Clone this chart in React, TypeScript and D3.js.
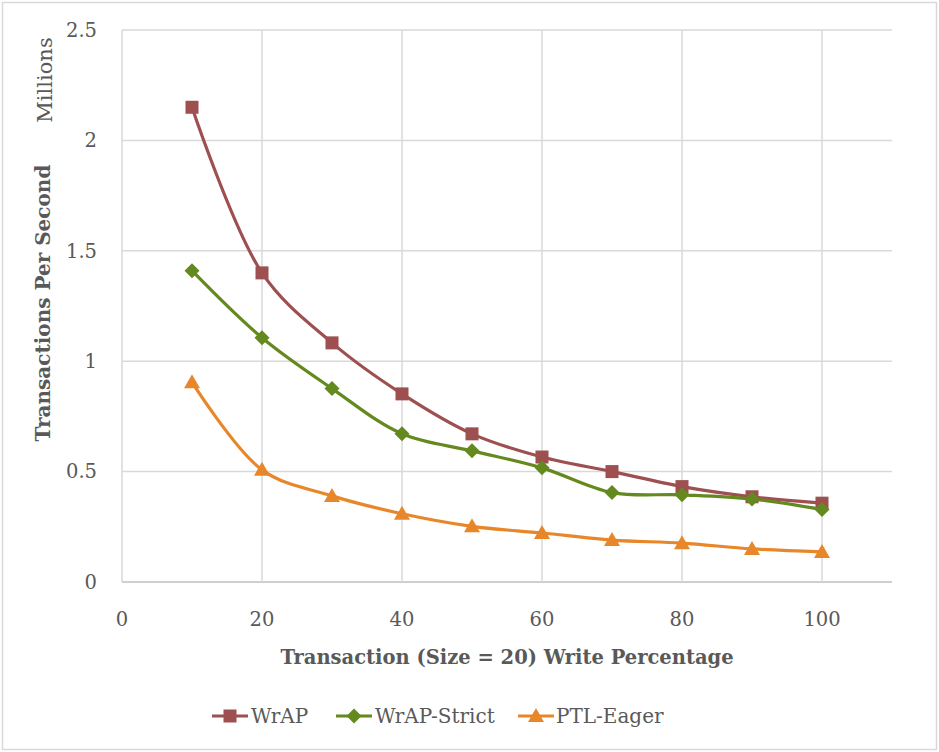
import * as d3 from 'd3';

const writePct = [10, 20, 30, 40, 50, 60, 70, 80, 90, 100];
const wrap = [2.15, 1.40, 1.083, 0.852, 0.671, 0.566, 0.500, 0.432, 0.386, 0.357];
const wrapStrict = [1.41, 1.106, 0.876, 0.671, 0.594, 0.517, 0.405, 0.395, 0.376, 0.328];
const ptlEager = [0.905, 0.508, 0.39, 0.309, 0.252, 0.222, 0.19, 0.176, 0.15, 0.136];
const xTicks = [0, 20, 40, 60, 80, 100];
const yTicks = [0, 0.5, 1, 1.5, 2, 2.5];

const seriesList = [
  { name: 'WrAP', values: wrap, color: '#9E4F50', marker: 'square' },
  { name: 'WrAP-Strict', values: wrapStrict, color: '#64891E', marker: 'diamond' },
  { name: 'PTL-Eager', values: ptlEager, color: '#E8872A', marker: 'triangle' },
];

const W = 939;
const H = 752;
const font = '"DejaVu Serif", serif';

const x = d3.scaleLinear().domain([0, 110]).range([122, 892]);
const y = d3.scaleLinear().domain([0, 2.5]).range([582, 30]);

function Marker({ kind, cx, cy, color, s = 1 }: { kind: string; cx: number; cy: number; color: string; s?: number }) {
  if (kind === 'square') {
    const h = 6.5 * s;
    return <rect x={cx - h} y={cy - h} width={2 * h} height={2 * h} fill={color} />;
  }
  if (kind === 'diamond') {
    const h = 7.5 * s;
    return <path d={`M${cx},${cy - h}L${cx + h},${cy}L${cx},${cy + h}L${cx - h},${cy}Z`} fill={color} />;
  }
  const h = 8 * s;
  return <path d={`M${cx},${cy - h}L${cx + h},${cy + h * 0.75}L${cx - h},${cy + h * 0.75}Z`} fill={color} />;
}

export default function App() {
  const line = d3
    .line<number>()
    .x((_, i) => x(writePct[i]))
    .y((d) => y(d))
    .curve(d3.curveCatmullRom.alpha(0.5));

  const legendItems = [
    { lx: 212, tx: 251 },
    { lx: 336, tx: 375 },
    { lx: 518, tx: 556 },
  ];

  return (
    <svg width={W} height={H} style={{ position: 'absolute', left: 0, top: 0 }} fontFamily={font}>
      <rect x={0} y={0} width={W} height={H} fill="#fff" />
      <rect x={2.5} y={2.5} width={W - 5} height={H - 5} fill="none" stroke="#D9D9D9" strokeWidth={1.5} />

      {yTicks.map((t) => (
        <line key={'gy' + t} x1={x(0)} x2={x(110)} y1={y(t)} y2={y(t)} stroke={t === 0 ? '#BFBFBF' : '#D9D9D9'} strokeWidth={1.5} />
      ))}
      {xTicks.map((t) => (
        <line key={'gx' + t} x1={x(t)} x2={x(t)} y1={y(0)} y2={y(2.5)} stroke="#D9D9D9" strokeWidth={1.5} />
      ))}

      {yTicks.map((t) => (
        <text key={'ty' + t} x={97} y={y(t)} dy="0.35em" textAnchor="end" fontSize={19.5} fill="#595959">
          {t}
        </text>
      ))}
      {xTicks.map((t) => (
        <text key={'tx' + t} x={x(t)} y={619} dy="0.35em" textAnchor="middle" fontSize={19.5} fill="#595959">
          {t}
        </text>
      ))}

      <text x={507} y={657} dy="0.35em" textAnchor="middle" fontSize={19.5} fontWeight="bold" fill="#595959">
        Transaction (Size = 20) Write Percentage
      </text>
      <text transform="translate(43,303) rotate(-90)" dy="0.35em" textAnchor="middle" fontSize={20} fontWeight="bold" fill="#595959">
        Transactions Per Second
      </text>
      <text transform="translate(45,80) rotate(-90)" dy="0.35em" textAnchor="middle" fontSize={21} fill="#595959">
        Millions
      </text>

      {seriesList.map((s) => (
        <g key={s.name}>
          <path d={line(s.values) ?? ''} fill="none" stroke={s.color} strokeWidth={3.2} strokeLinejoin="round" />
          {s.values.map((v, i) => (
            <Marker key={i} kind={s.marker} cx={x(writePct[i])} cy={y(v)} color={s.color} />
          ))}
        </g>
      ))}

      {seriesList.map((s, i) => (
        <g key={'lg' + s.name}>
          <line x1={legendItems[i].lx} x2={legendItems[i].lx + 36} y1={716} y2={716} stroke={s.color} strokeWidth={3.2} />
          <Marker kind={s.marker} cx={legendItems[i].lx + 18} cy={716} color={s.color} />
          <text x={legendItems[i].tx} y={716} dy="0.35em" fontSize={20} fill="#595959">
            {s.name}
          </text>
        </g>
      ))}
    </svg>
  );
}
